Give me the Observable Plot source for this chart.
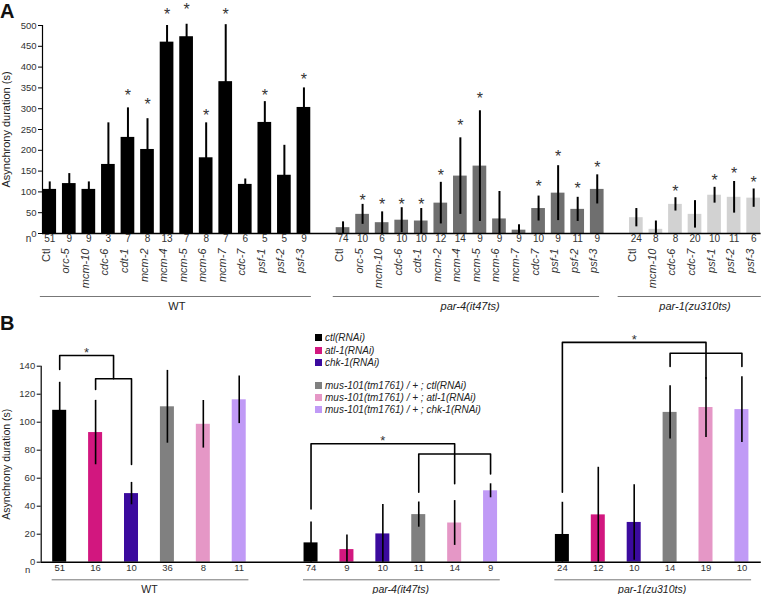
<!DOCTYPE html>
<html><head><meta charset="utf-8">
<script src="https://cdn.jsdelivr.net/npm/d3@7"></script>
<script src="https://cdn.jsdelivr.net/npm/@observablehq/plot@0.6"></script>
<style>
body{margin:0;background:#fff;font-family:"Liberation Sans",Arial,sans-serif;}
#wrap{position:relative;width:763px;height:594px;overflow:hidden;background:#fff}
.panel{position:absolute;left:0}
.letter{position:absolute;left:0;font-weight:bold;font-size:20px;line-height:22px;color:#111}
#legend{position:absolute;left:315px;top:332px;font-size:10px;font-style:italic;color:#222}
#legend .row{position:absolute;left:0;white-space:nowrap;height:12px;line-height:12px}
#legend .sw{display:inline-block;width:7px;height:7px;vertical-align:middle;margin-right:3px;position:relative;top:-1px}
</style></head><body>
<div id="wrap">
  <div id="panelA" class="panel" style="top:0"></div>
  <div id="panelB" class="panel" style="top:315px"></div>
  <div class="letter" style="top:0px">A</div>
  <div class="letter" style="top:312px">B</div>
  <div id="legend"></div>
</div>
<script>
const FONT = '"Liberation Sans", Arial, sans-serif';

// ---------------- Panel A data ----------------
const groupsA = ["WT", "par-4(it47ts)", "par-1(zu310ts)"];
const colorsA = ["#000000", "#6f6f6f", "#d2d2d2"];
const genesWT = ["Ctl","orc-5","mcm-10","cdc-6","cdt-1","mcm-2","mcm-4","mcm-5","mcm-6","mcm-7","cdc-7","psf-1","psf-2","psf-3"];
const nWT     = [51, 9, 9, 3, 7, 8, 13, 7, 8, 7, 6, 5, 5, 9];
const meanWT  = [106, 120, 106, 166, 231, 202, 460, 473, 182, 365, 118, 267, 140, 303];
const errWT   = [18, 24, 18, 100, 71, 74, 40, 30, 84, 137, 13, 50, 72, 47];
// level of the significance asterisk (null = not significant)
const starWT  = [null, null, null, null, 340, 320, 534, 546, 292, 534, null, 340, null, 380];

const genesP4 = ["Ctl","orc-5","mcm-10","cdc-6","cdt-1","mcm-2","mcm-4","mcm-5","mcm-6","mcm-7","cdc-7","psf-1","psf-2","psf-3"];
const nP4     = [74, 10, 6, 10, 10, 12, 14, 9, 9, 9, 10, 9, 11, 9];
const meanP4  = [14, 46, 26, 32, 30, 73, 138, 162, 35, 8, 60, 97, 58, 106];
const errP4   = [14, 24, 26, 30, 30, 50, 92, 133, 66, 13, 30, 66, 29, 35];
const starP4  = [null, 88, 78, 78, 78, 148, 268, 334, null, null, 122, 194, 118, 168];

const genesP1 = ["Ctl","mcm-10","cdc-6","cdc-7","psf-1","psf-2","psf-3"];
const nP1     = [24, 8, 8, 20, 10, 11, 6];
const meanP1  = [38, 10, 70, 46, 92, 87, 85];
const errP1   = [22, 20, 16, 33, 19, 38, 22];
const starP1  = [null, null, 110, null, 136, 154, 132];

const ticksA = [0, 50, 100, 150, 200, 250, 300, 350, 400, 450, 500];

// ---------------- Panel B data ----------------
const groupsB = ["WT", "par-4(it47ts)", "par-1(zu310ts)"];
const conditionsB = ["ctl(RNAi)", "atl-1(RNAi)", "chk-1(RNAi)",
  "mus-101(tm1761) / + ; ctl(RNAi)", "mus-101(tm1761) / + ; atl-1(RNAi)", "mus-101(tm1761) / + ; chk-1(RNAi)"];
const colorsB = ["#000000", "#d2177f", "#3b0a9e", "#808080", "#e597c6", "#c09af6"];
const nB_WT   = [51, 16, 10, 36, 8, 11];
const meanB_WT = [108.5, 92.6, 49, 111, 98.5, 116];
const errB_WT  = [20, 23, 8, 26, 17, 17];
const nB_P4   = [74, 9, 10, 11, 14, 9];
const meanB_P4 = [13.8, 9, 20.2, 34, 28, 51];
const errB_P4  = [15, 10.5, 21, 9, 16, 5];
const nB_P1   = [24, 12, 10, 14, 19, 10];
const meanB_P1 = [19.8, 33.8, 28.4, 107, 110.5, 109];
const errB_P1  = [23, 34, 27, 19, 21.5, 23.5];
const ticksB = [0, 20, 40, 60, 80, 100, 120, 140];

// significance brackets (group, from/to condition position, top level, left/right leg ends)
const bracketGroup = [0, 0, 1, 1, 2, 2];
const bracketFrom  = [0, 1, 0, 3, 0, 3];
const bracketTo    = [1.5, 2, 4, 5, 4, 5];
const bracketTop   = [147.6, 131, 84.6, 77.3, 157, 149.3];
const bracketLeft  = [137.6, 123.4, 38, 50, 50, 139.8];
const bracketRight = [131, 69.8, 56, 63, 131, 139.8];
const bracketStar  = [1, 0, 1, 0, 1, 0];

// ---------------- build Panel A ----------------
const srcA = [
  {genes: genesWT, n: nWT, mean: meanWT, err: errWT, star: starWT},
  {genes: genesP4, n: nP4, mean: meanP4, err: errP4, star: starP4},
  {genes: genesP1, n: nP1, mean: meanP1, err: errP1, star: starP1}
];
const lineFromA = [-0.48, -0.5, -0.93], lineToA = [0.38, 0.12, 0.39];
const rowsA = [], spansA = [];
let idx = 0;
srcA.forEach((g, gi) => {
  const first = idx;
  g.genes.forEach((gene, k) => {
    rowsA.push({i: idx, gene, n: g.n[k], mean: g.mean[k], err: g.err[k], star: g.star[k], color: colorsA[gi]});
    idx++;
  });
  const last = idx - 1;
  spansA.push({name: groupsA[gi], x1: first + lineFromA[gi], x2: last + lineToA[gi], mid: (first + last) / 2, italic: gi > 0});
  idx++;
});
const HW_A = 0.35;

const plotA = Plot.plot({
  width: 763, height: 315,
  marginLeft: 42, marginRight: 2.4, marginTop: 25, marginBottom: 82,
  x: {type: "linear", domain: [-0.37, 36.38], axis: null},
  y: {domain: [0, 500], axis: null},
  color: {type: "identity"},
  style: {fontFamily: FONT, fontSize: "10px", color: "#222", background: "transparent", overflow: "visible"},
  marks: [
    Plot.rectY(rowsA, {x1: d => d.i - HW_A, x2: d => d.i + HW_A, y1: 0, y2: "mean", fill: "color"}),
    Plot.ruleX(rowsA, {x: "i", y1: d => Math.max(0, d.mean - d.err), y2: d => d.mean + d.err, stroke: "#000", strokeWidth: 2}),
    Plot.text(rowsA.filter(d => d.star != null), {x: "i", y: "star", text: d => "*", dy: 4, fontSize: 16, fill: "#333"}),
    Plot.ruleY([0], {stroke: "#000", strokeWidth: 1.5}),
    Plot.ruleX([-0.37], {y1: 0, y2: 500, stroke: "#000", strokeWidth: 1.2}),
    Plot.axisY(ticksA, {tickSize: 4, tickPadding: 2, label: null, fontSize: 9.5, stroke: "#000", fill: "#333"}),
    Plot.text(["Asynchrony duration (s)"], {frameAnchor: "left", rotate: -90, dx: -36, textAnchor: "middle", fontSize: 11, fill: "#222"}),
    Plot.text(["n"], {frameAnchor: "bottom-left", dx: -14, dy: 8.5, textAnchor: "middle", fontSize: 10, fill: "#333"}),
    Plot.text(rowsA, {x: "i", text: "n", frameAnchor: "bottom", dy: 8.5, fontSize: 10, fill: "#333"}),
    Plot.text(rowsA.filter(d => d.gene === "Ctl"), {x: "i", text: "gene", frameAnchor: "bottom", rotate: -90, textAnchor: "end", dy: 15, fontSize: 11, fill: "#333"}),
    Plot.text(rowsA.filter(d => d.gene !== "Ctl"), {x: "i", text: "gene", frameAnchor: "bottom", rotate: -90, textAnchor: "end", dy: 15, fontSize: 11, fontStyle: "italic", fill: "#333"}),
    Plot.ruleY(spansA, {y: 0, x1: "x1", x2: "x2", dy: 63, stroke: "#777", strokeWidth: 1}),
    Plot.text(spansA.filter(d => !d.italic), {x: "mid", y: 0, text: "name", dy: 72.5, fontSize: 11, fill: "#222"}),
    Plot.text(spansA.filter(d => d.italic), {x: "mid", y: 0, text: "name", dy: 72.5, fontSize: 11, fontStyle: "italic", fill: "#222"})
  ]
});
document.getElementById("panelA").appendChild(plotA);

// ---------------- build Panel B ----------------
const srcB = [
  {n: nB_WT, mean: meanB_WT, err: errB_WT},
  {n: nB_P4, mean: meanB_P4, err: errB_P4},
  {n: nB_P1, mean: meanB_P1, err: errB_P1}
];
const rowsB = [], spansB = [], groupStartB = [];
idx = 0;
srcB.forEach((g, gi) => {
  const first = idx;
  groupStartB.push(first);
  conditionsB.forEach((c, k) => {
    rowsB.push({i: idx, cond: c, n: g.n[k], mean: g.mean[k], err: g.err[k], color: colorsB[k]});
    idx++;
  });
  const last = idx - 1;
  spansB.push({name: groupsB[gi], x1: first - 0.21, x2: last + 0.27, mid: (first + last) / 2, italic: gi > 0});
  idx++;
});
const HW_B = 0.195;

const bracketPts = [], starPts = [];
bracketGroup.forEach((g, b) => {
  const x1 = groupStartB[g] + bracketFrom[b], x2 = groupStartB[g] + bracketTo[b];
  bracketPts.push({b, x: x1, y: bracketLeft[b]}, {b, x: x1, y: bracketTop[b]}, {b, x: x2, y: bracketTop[b]}, {b, x: x2, y: bracketRight[b]});
  if (bracketStar[b]) starPts.push({x: (x1 + x2) / 2, y: bracketTop[b]});
});

const plotB = Plot.plot({
  width: 763, height: 279,
  marginLeft: 40.7, marginRight: 2.2, marginTop: 50.7, marginBottom: 32.3,
  x: {type: "linear", domain: [-0.515, 19.54], axis: null},
  y: {domain: [0, 140], axis: null},
  color: {type: "identity"},
  style: {fontFamily: FONT, fontSize: "9.5px", color: "#222", background: "transparent", overflow: "visible"},
  marks: [
    Plot.rectY(rowsB, {x1: d => d.i - HW_B, x2: d => d.i + HW_B, y1: 0, y2: "mean", fill: "color"}),
    Plot.ruleX(rowsB, {x: "i", y1: d => Math.max(0, d.mean - d.err), y2: d => d.mean + d.err, stroke: "#000", strokeWidth: 1.6}),
    Plot.line(bracketPts, {x: "x", y: "y", z: "b", stroke: "#000", strokeWidth: 1.6, curve: "linear"}),
    Plot.text(starPts, {x: "x", y: "y", text: d => "*", dy: -3, fontSize: 13, fill: "#333"}),
    Plot.ruleY([0], {stroke: "#000", strokeWidth: 1.5}),
    Plot.ruleX([-0.515], {y1: 0, y2: 140, stroke: "#000", strokeWidth: 1.2}),
    Plot.axisY(ticksB, {tickSize: 4, tickPadding: 2, label: null, fontSize: 9.5, stroke: "#000", fill: "#333"}),
    Plot.text(["Asynchrony duration (s)"], {frameAnchor: "left", rotate: -90, dx: -35, textAnchor: "middle", fontSize: 10.5, fill: "#222"}),
    Plot.text(["n"], {frameAnchor: "bottom-left", dx: -13.5, dy: 10.5, textAnchor: "middle", fontSize: 9.5, fill: "#333"}),
    Plot.text(rowsB, {x: "i", text: "n", frameAnchor: "bottom", dy: 9, fontSize: 9.5, fill: "#333"}),
    Plot.ruleY(spansB, {y: 0, x1: "x1", x2: "x2", dy: 17.6, stroke: "#777", strokeWidth: 1}),
    Plot.text(spansB.filter(d => !d.italic), {x: "mid", y: 0, text: "name", dy: 27.5, fontSize: 10.5, fill: "#222"}),
    Plot.text(spansB.filter(d => d.italic), {x: "mid", y: 0, text: "name", dy: 27.5, fontSize: 10.5, fontStyle: "italic", fill: "#222"})
  ]
});
document.getElementById("panelB").appendChild(plotB);

// ---------------- legend (Panel B) ----------------
const legendRowTop = [0, 12.7, 25, 47.7, 60, 72.4];
const legend = document.getElementById("legend");
conditionsB.forEach((c, k) => {
  const row = document.createElement("div");
  row.className = "row";
  row.style.top = legendRowTop[k] + "px";
  const sw = document.createElement("span");
  sw.className = "sw";
  sw.style.background = colorsB[k];
  row.appendChild(sw);
  row.appendChild(document.createTextNode(c));
  legend.appendChild(row);
});
</script>
</body></html>
